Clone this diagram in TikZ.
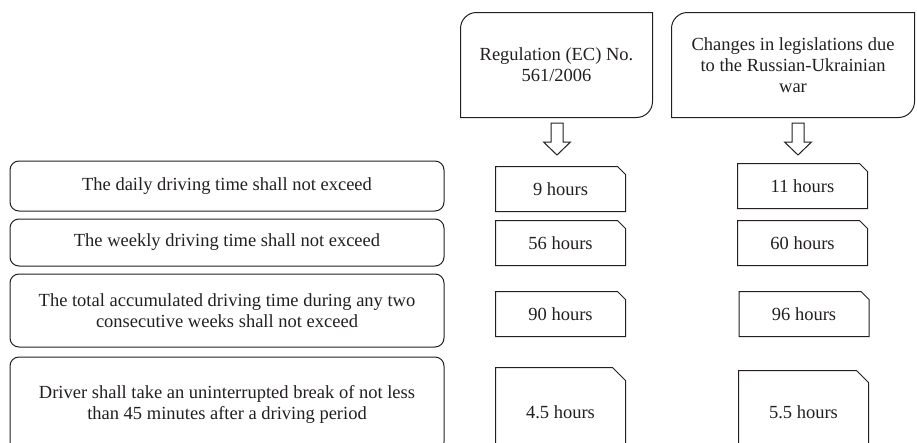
\documentclass[tikz,border=0pt]{standalone}
\usepackage{fontspec}
\setmainfont{Liberation Serif}
\usetikzlibrary{calc}

\definecolor{inkgray}{RGB}{35,31,32}

\tikzset{every picture/.style={line width=1pt}}
\tikzset{
  rulebox/.style={draw=inkgray, rounded corners=9, minimum width=434, align=center, inner sep=0.75pt, text=inkgray},
  headbox/.style={minimum width=191, minimum height=104, align=center, inner sep=0.75pt, text=inkgray},
  valbox/.style={minimum width=129, minimum height=44, inner sep=0.75pt, text=inkgray},
}

\begin{document}
\begin{tikzpicture}[x=1pt,y=1pt,yscale=-1,xscale=1]
\fontsize{18.5}{21}\selectfont
\useasboundingbox (0,0) rectangle (917,442);
\clip (0,0) rectangle (917,442);

%Rounded Rect: conditions
\node [rulebox, minimum height=50] (daily) at (227,186) {The daily driving time shall not exceed};
\node [rulebox, minimum height=47] (weekly) at (227,242.5) {The weekly driving time shall not exceed};
\node [rulebox, minimum height=73] (total) at (227,310.5) {The total accumulated driving time during any two\\consecutive weeks shall not exceed};
\node [rulebox, minimum height=94] (brk) at (227,404) {Driver shall take an uninterrupted break of not less\\than 45 minutes after a driving period};

% Text Node: headers
\node [headbox] (reg) at (556.5,65) {Regulation (EC) No.\\561/2006};
\node [headbox, minimum width=242] (war) at (793,65) {Changes in legislations due\\to the Russian-Ukrainian\\war};
%Shape: two rounded corners
\foreach \h in {reg,war}
  \draw [inkgray] (\h.south west) -- ($(\h.north west)+(0,16)$) arc [start angle=180, end angle=270, radius=16] -- (\h.north east) -- ($(\h.south east)-(0,16)$) arc [start angle=0, end angle=90, radius=16] -- cycle;

%Shape: Block Arrow
\coordinate (arrreg) at (557,123);
\coordinate (arrwar) at (798,123);
\foreach \a in {arrreg,arrwar}
  \draw [inkgray] ($(\a)+(-6,0)$) -- ++(0,19) -- ++(-7.5,0) -- ($(\a)+(0,32)$) -- ($(\a)+(13.5,19)$) -- ++(-7.5,0) -- ($(\a)+(6,0)$) -- cycle;

% Text Node: values
\node [valbox] (regdaily) at (560.5,189) {9 hours};
\node [valbox] (regweek) at (560.5,243) {56 hours};
\node [valbox] (regtwo) at (560.5,314) {90 hours};
\node [valbox, minimum height=88] (regbrk) at (560.5,412) {4.5 hours};

\node [valbox] (wardaily) at (802.5,186) {11 hours};
\node [valbox] (warweek) at (802.5,243) {60 hours};
\node [valbox] (wartwo) at (804,314) {96 hours};
\node [valbox, minimum height=82] (warbrk) at (803.5,412) {5.5 hours};

%Shape: cut corner boxes
\foreach \v/\c in {regdaily/8,regweek/8,regtwo/8,regbrk/13,wardaily/8,warweek/8,wartwo/8,warbrk/12}
  \draw [inkgray] (\v.south west) -- (\v.north west) -- ($(\v.north east)-(\c,0)$) -- ($(\v.north east)+(0,\c)$) -- (\v.south east) -- cycle;

\end{tikzpicture}
\end{document}
